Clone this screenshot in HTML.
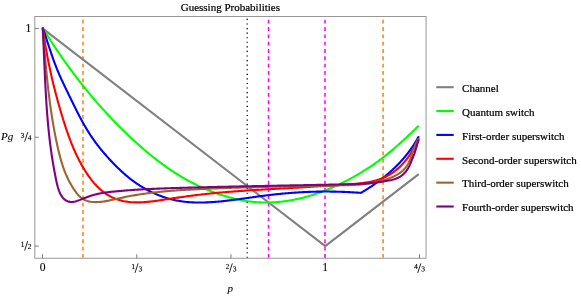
<!DOCTYPE html>
<html><head><meta charset="utf-8"><title>Guessing Probabilities</title>
<style>
html,body{margin:0;padding:0;background:#fff;}
svg{display:block;will-change:transform;}
text{font-family:"Liberation Serif",serif;font-size:11px;fill:#000;stroke:#000;stroke-width:0.22px;}
text.sm{font-size:10px;stroke-width:0.3px;}
text.num{font-size:11.6px;stroke-width:0.1px;}
text.it{font-style:italic;stroke-width:0.08px;}
</style></head>
<body>
<svg width="581" height="298" viewBox="0 0 581 298">
<rect x="0" y="0" width="581" height="298" fill="#ffffff"/>

<g fill="none">
<line x1="83.0" y1="257.85" x2="83.0" y2="17.0" stroke="#ff8000" stroke-width="1.5" stroke-dasharray="3.85 3.47"/>
<line x1="383.1" y1="257.85" x2="383.1" y2="17.0" stroke="#ff8000" stroke-width="1.5" stroke-dasharray="3.85 3.47"/>
<line x1="268.55" y1="257.85" x2="268.55" y2="17.0" stroke="#ff00ff" stroke-width="1.5" stroke-dasharray="3.85 3.47"/>
<line x1="325.0" y1="257.85" x2="325.0" y2="17.0" stroke="#ff00ff" stroke-width="1.5" stroke-dasharray="3.85 3.47"/>
<line x1="247.2" y1="257.85" x2="247.2" y2="17.0" stroke="#000000" stroke-width="1.35" stroke-dasharray="1.15 3.424"/>
</g>
<g fill="none" stroke-width="2.1" stroke-linejoin="round" stroke-linecap="butt">
<path d="M42.50,28.45 L325.25,246.05 L418.75,174.07" stroke="#808080"/>
<path d="M42.75,28.00 L43.37,29.01 L43.98,30.01 L44.60,31.02 L45.23,32.02 L45.85,33.02 L46.48,34.02 L47.10,35.02 L47.73,36.02 L48.36,37.02 L49.00,38.01 L49.63,39.01 L50.27,40.00 L50.91,40.99 L51.55,41.98 L52.19,42.97 L52.84,43.96 L53.49,44.94 L54.14,45.93 L54.79,46.91 L55.44,47.89 L56.09,48.87 L56.75,49.85 L57.41,50.83 L58.07,51.81 L58.73,52.78 L59.40,53.75 L60.06,54.73 L60.73,55.70 L61.40,56.67 L62.07,57.63 L62.75,58.60 L63.43,59.56 L64.10,60.53 L64.78,61.49 L65.47,62.45 L66.15,63.41 L66.84,64.36 L67.53,65.32 L68.22,66.27 L68.91,67.23 L69.60,68.18 L70.30,69.13 L71.00,70.07 L71.70,71.02 L72.40,71.96 L73.10,72.91 L73.81,73.85 L74.52,74.79 L75.23,75.73 L75.94,76.66 L76.66,77.60 L77.37,78.53 L78.09,79.46 L78.81,80.39 L79.53,81.32 L80.26,82.25 L80.99,83.17 L81.71,84.10 L82.45,85.02 L83.18,85.94 L83.91,86.86 L84.65,87.78 L85.39,88.69 L86.13,89.60 L86.87,90.52 L87.62,91.43 L88.37,92.33 L89.12,93.24 L89.87,94.15 L90.62,95.05 L91.38,95.95 L92.13,96.85 L92.89,97.75 L93.66,98.64 L94.42,99.54 L95.19,100.43 L95.95,101.32 L96.72,102.21 L97.50,103.10 L98.27,103.98 L99.05,104.87 L99.83,105.75 L100.61,106.63 L101.39,107.51 L102.18,108.38 L102.96,109.26 L103.75,110.13 L104.54,111.00 L105.34,111.87 L106.13,112.74 L106.93,113.60 L107.73,114.47 L108.53,115.33 L109.34,116.19 L110.14,117.05 L110.95,117.90 L111.76,118.76 L112.58,119.61 L113.39,120.46 L114.21,121.31 L115.03,122.15 L115.85,123.00 L116.67,123.84 L117.50,124.68 L118.33,125.52 L119.16,126.35 L119.99,127.19 L120.82,128.02 L121.66,128.85 L122.50,129.68 L123.34,130.51 L124.18,131.33 L125.03,132.15 L125.88,132.97 L126.73,133.79 L127.58,134.61 L128.43,135.42 L129.29,136.24 L130.15,137.05 L131.01,137.85 L131.87,138.66 L132.74,139.46 L133.61,140.27 L134.48,141.07 L135.35,141.86 L136.22,142.66 L137.10,143.45 L137.98,144.24 L138.86,145.03 L139.74,145.81 L140.63,146.59 L141.52,147.37 L142.41,148.14 L143.30,148.92 L144.20,149.69 L145.10,150.45 L146.00,151.22 L146.91,151.98 L147.81,152.73 L148.72,153.49 L149.63,154.24 L150.55,154.99 L151.46,155.73 L152.38,156.47 L153.31,157.21 L154.23,157.94 L155.16,158.67 L156.09,159.39 L157.02,160.11 L157.96,160.83 L158.90,161.54 L159.84,162.25 L160.79,162.96 L161.73,163.66 L162.68,164.36 L163.64,165.05 L164.59,165.74 L165.55,166.42 L166.51,167.10 L167.48,167.77 L168.45,168.44 L169.42,169.11 L170.39,169.77 L171.37,170.43 L172.35,171.08 L173.33,171.72 L174.32,172.36 L175.31,173.00 L176.30,173.63 L177.30,174.26 L178.30,174.88 L179.30,175.49 L180.30,176.10 L181.31,176.71 L182.32,177.30 L183.34,177.90 L184.36,178.49 L185.38,179.07 L186.40,179.64 L187.43,180.22 L188.46,180.78 L189.50,181.34 L190.54,181.89 L191.58,182.44 L192.62,182.98 L193.67,183.51 L194.73,184.04 L195.78,184.56 L196.84,185.08 L197.90,185.59 L198.97,186.09 L200.04,186.59 L201.11,187.08 L202.19,187.56 L203.27,188.04 L204.35,188.51 L205.44,188.97 L206.53,189.43 L207.62,189.88 L208.72,190.33 L209.82,190.76 L210.92,191.20 L212.03,191.62 L213.13,192.04 L214.25,192.45 L215.36,192.85 L216.47,193.25 L217.59,193.64 L218.71,194.03 L219.84,194.41 L220.96,194.78 L222.09,195.15 L223.22,195.51 L224.35,195.86 L225.49,196.20 L226.63,196.54 L227.76,196.87 L228.91,197.20 L230.05,197.52 L231.19,197.83 L232.34,198.13 L233.49,198.42 L234.64,198.70 L235.79,198.98 L236.94,199.24 L238.09,199.50 L239.25,199.75 L240.41,199.98 L241.56,200.21 L242.72,200.43 L243.88,200.63 L245.04,200.83 L246.21,201.01 L247.37,201.19 L248.54,201.35 L249.70,201.51 L250.87,201.65 L252.03,201.78 L253.20,201.90 L254.37,202.01 L255.54,202.11 L256.71,202.20 L257.87,202.28 L259.04,202.35 L260.21,202.40 L261.38,202.45 L262.55,202.48 L263.72,202.51 L264.89,202.52 L266.07,202.53 L267.24,202.52 L268.41,202.50 L269.58,202.48 L270.74,202.44 L271.91,202.40 L273.08,202.34 L274.25,202.28 L275.42,202.20 L276.59,202.12 L277.75,202.03 L278.92,201.92 L280.08,201.81 L281.25,201.69 L282.41,201.55 L283.57,201.41 L284.73,201.26 L285.90,201.10 L287.05,200.93 L288.21,200.76 L289.37,200.57 L290.53,200.37 L291.68,200.17 L292.83,199.96 L293.99,199.73 L295.14,199.50 L296.29,199.26 L297.44,199.02 L298.58,198.76 L299.73,198.50 L300.87,198.22 L302.01,197.94 L303.15,197.66 L304.29,197.36 L305.43,197.05 L306.57,196.74 L307.70,196.42 L308.83,196.09 L309.96,195.76 L311.09,195.42 L312.22,195.07 L313.35,194.71 L314.47,194.35 L315.59,193.97 L316.71,193.59 L317.83,193.21 L318.94,192.82 L320.06,192.42 L321.17,192.01 L322.28,191.60 L323.38,191.18 L324.49,190.75 L325.59,190.32 L326.69,189.88 L327.79,189.43 L328.88,188.98 L329.97,188.52 L331.06,188.06 L332.15,187.59 L333.24,187.11 L334.32,186.63 L335.40,186.15 L336.48,185.65 L337.55,185.15 L338.63,184.65 L339.69,184.14 L340.76,183.63 L341.82,183.11 L342.89,182.58 L343.94,182.05 L345.00,181.51 L346.05,180.97 L347.10,180.43 L348.15,179.88 L349.19,179.32 L350.23,178.76 L351.27,178.20 L352.30,177.63 L353.33,177.06 L354.36,176.48 L355.38,175.90 L356.40,175.31 L357.42,174.72 L358.43,174.13 L359.44,173.53 L360.45,172.93 L361.46,172.32 L362.46,171.71 L363.45,171.09 L364.45,170.47 L365.44,169.85 L366.42,169.22 L367.41,168.59 L368.39,167.95 L369.37,167.31 L370.34,166.67 L371.31,166.01 L372.28,165.36 L373.25,164.70 L374.21,164.03 L375.17,163.36 L376.12,162.68 L377.07,162.00 L378.02,161.32 L378.97,160.62 L379.91,159.93 L380.85,159.22 L381.79,158.51 L382.73,157.80 L383.66,157.08 L384.59,156.35 L385.51,155.62 L386.44,154.89 L387.36,154.15 L388.28,153.40 L389.19,152.65 L390.10,151.89 L391.01,151.13 L391.92,150.37 L392.82,149.60 L393.72,148.83 L394.62,148.06 L395.52,147.28 L396.41,146.50 L397.30,145.71 L398.19,144.92 L399.08,144.14 L399.96,143.34 L400.84,142.55 L401.72,141.75 L402.60,140.96 L403.47,140.16 L404.34,139.35 L405.21,138.55 L406.08,137.75 L406.94,136.94 L407.80,136.14 L408.66,135.33 L409.52,134.53 L410.37,133.72 L411.23,132.92 L412.08,132.11 L412.92,131.31 L413.77,130.50 L414.61,129.70 L415.45,128.90 L416.29,128.09 L417.13,127.29 L417.97,126.50 L418.80,125.70" stroke="#00ff00"/>
<path d="M42.75,28.00 L43.10,28.99 L43.44,29.99 L43.78,30.98 L44.12,31.97 L44.45,32.96 L44.79,33.95 L45.12,34.94 L45.45,35.93 L45.77,36.92 L46.10,37.91 L46.42,38.89 L46.75,39.88 L47.07,40.86 L47.39,41.85 L47.72,42.83 L48.04,43.81 L48.36,44.79 L48.68,45.77 L49.00,46.75 L49.33,47.73 L49.65,48.71 L49.98,49.68 L50.30,50.66 L50.63,51.64 L50.96,52.61 L51.29,53.59 L51.62,54.56 L51.96,55.53 L52.29,56.50 L52.63,57.47 L52.98,58.44 L53.32,59.41 L53.67,60.38 L54.02,61.35 L54.38,62.31 L54.74,63.28 L55.10,64.24 L55.47,65.21 L55.84,66.17 L56.22,67.13 L56.60,68.10 L56.99,69.06 L57.38,70.02 L57.78,70.98 L58.18,71.93 L58.58,72.89 L59.00,73.85 L59.41,74.80 L59.83,75.76 L60.26,76.71 L60.68,77.67 L61.12,78.62 L61.55,79.57 L61.99,80.52 L62.43,81.47 L62.87,82.42 L63.32,83.37 L63.77,84.32 L64.22,85.26 L64.67,86.21 L65.12,87.15 L65.57,88.10 L66.03,89.04 L66.49,89.98 L66.94,90.93 L67.40,91.87 L67.86,92.81 L68.31,93.75 L68.77,94.68 L69.22,95.62 L69.68,96.56 L70.13,97.50 L70.59,98.43 L71.04,99.36 L71.49,100.30 L71.95,101.23 L72.40,102.16 L72.86,103.09 L73.31,104.02 L73.77,104.95 L74.22,105.87 L74.68,106.80 L75.14,107.72 L75.60,108.64 L76.06,109.56 L76.52,110.48 L76.98,111.40 L77.45,112.32 L77.92,113.23 L78.39,114.14 L78.86,115.06 L79.33,115.97 L79.81,116.87 L80.29,117.78 L80.77,118.68 L81.26,119.59 L81.75,120.49 L82.24,121.39 L82.73,122.28 L83.23,123.18 L83.74,124.07 L84.24,124.96 L84.75,125.85 L85.27,126.74 L85.79,127.62 L86.31,128.50 L86.84,129.38 L87.37,130.26 L87.91,131.14 L88.45,132.01 L89.00,132.88 L89.56,133.75 L90.11,134.61 L90.68,135.48 L91.25,136.34 L91.83,137.19 L92.41,138.05 L93.00,138.90 L93.59,139.75 L94.19,140.60 L94.80,141.44 L95.42,142.28 L96.04,143.12 L96.66,143.95 L97.29,144.79 L97.93,145.61 L98.58,146.44 L99.22,147.26 L99.88,148.08 L100.53,148.90 L101.20,149.71 L101.86,150.52 L102.54,151.33 L103.21,152.13 L103.89,152.93 L104.57,153.73 L105.26,154.52 L105.95,155.31 L106.65,156.09 L107.34,156.88 L108.05,157.66 L108.75,158.43 L109.46,159.20 L110.16,159.97 L110.88,160.73 L111.59,161.49 L112.30,162.25 L113.02,163.00 L113.74,163.75 L114.47,164.49 L115.19,165.23 L115.92,165.96 L116.66,166.69 L117.39,167.42 L118.13,168.14 L118.87,168.86 L119.62,169.57 L120.37,170.28 L121.12,170.98 L121.88,171.67 L122.64,172.37 L123.41,173.05 L124.18,173.73 L124.95,174.41 L125.73,175.08 L126.52,175.74 L127.30,176.40 L128.10,177.05 L128.89,177.70 L129.70,178.34 L130.51,178.97 L131.32,179.60 L132.14,180.22 L132.96,180.84 L133.80,181.45 L134.63,182.05 L135.47,182.65 L136.32,183.24 L137.18,183.82 L138.04,184.40 L138.91,184.96 L139.78,185.53 L140.66,186.08 L141.55,186.63 L142.44,187.17 L143.34,187.70 L144.24,188.22 L145.15,188.74 L146.06,189.25 L146.98,189.75 L147.91,190.24 L148.84,190.73 L149.77,191.20 L150.71,191.67 L151.66,192.13 L152.60,192.58 L153.56,193.02 L154.51,193.45 L155.47,193.87 L156.44,194.29 L157.40,194.69 L158.37,195.09 L159.35,195.47 L160.32,195.85 L161.30,196.21 L162.29,196.57 L163.27,196.92 L164.26,197.25 L165.25,197.58 L166.24,197.89 L167.24,198.20 L168.24,198.49 L169.23,198.77 L170.23,199.04 L171.24,199.31 L172.24,199.55 L173.24,199.79 L174.25,200.02 L175.25,200.24 L176.26,200.44 L177.27,200.64 L178.28,200.82 L179.29,200.99 L180.30,201.15 L181.31,201.31 L182.32,201.45 L183.33,201.58 L184.35,201.71 L185.36,201.82 L186.38,201.93 L187.40,202.02 L188.41,202.11 L189.43,202.19 L190.45,202.26 L191.47,202.32 L192.49,202.37 L193.51,202.42 L194.54,202.46 L195.56,202.49 L196.58,202.51 L197.61,202.53 L198.63,202.54 L199.66,202.54 L200.68,202.53 L201.71,202.52 L202.74,202.51 L203.76,202.48 L204.79,202.46 L205.82,202.42 L206.85,202.38 L207.88,202.34 L208.91,202.29 L209.94,202.23 L210.97,202.17 L212.00,202.11 L213.04,202.04 L214.07,201.96 L215.10,201.89 L216.14,201.80 L217.17,201.72 L218.20,201.63 L219.24,201.53 L220.27,201.43 L221.31,201.33 L222.34,201.23 L223.38,201.12 L224.42,201.01 L225.45,200.89 L226.49,200.78 L227.52,200.66 L228.56,200.53 L229.60,200.41 L230.64,200.28 L231.67,200.15 L232.71,200.02 L233.75,199.88 L234.79,199.75 L235.82,199.61 L236.86,199.47 L237.90,199.33 L238.94,199.19 L239.98,199.05 L241.01,198.90 L242.05,198.76 L243.09,198.61 L244.13,198.46 L245.17,198.32 L246.20,198.17 L247.24,198.02 L248.28,197.87 L249.32,197.72 L250.35,197.58 L251.39,197.43 L252.43,197.28 L253.47,197.13 L254.50,196.99 L255.54,196.84 L256.58,196.70 L257.61,196.55 L258.65,196.41 L259.68,196.27 L260.72,196.13 L261.75,195.99 L262.79,195.86 L263.82,195.72 L264.86,195.59 L265.89,195.46 L266.92,195.33 L267.96,195.20 L268.99,195.08 L270.02,194.95 L271.06,194.83 L272.09,194.72 L273.12,194.60 L274.15,194.49 L275.18,194.37 L276.21,194.26 L277.24,194.16 L278.27,194.05 L279.30,193.95 L280.33,193.84 L281.36,193.74 L282.39,193.65 L283.42,193.55 L284.45,193.46 L285.48,193.37 L286.51,193.28 L287.54,193.19 L288.57,193.11 L289.60,193.03 L290.63,192.95 L291.65,192.87 L292.68,192.79 L293.71,192.72 L294.74,192.65 L295.77,192.58 L296.80,192.51 L297.82,192.45 L298.85,192.38 L299.88,192.32 L300.91,192.27 L301.94,192.21 L302.96,192.16 L303.99,192.10 L305.02,192.06 L306.05,192.01 L307.08,191.96 L308.11,191.92 L309.14,191.88 L310.16,191.84 L311.19,191.81 L312.22,191.78 L313.25,191.74 L314.28,191.72 L315.31,191.69 L316.34,191.67 L317.37,191.64 L318.40,191.62 L319.43,191.61 L320.46,191.59 L321.49,191.58 L322.52,191.57 L323.55,191.56 L324.58,191.56 L325.61,191.55 L326.64,191.55 L327.68,191.56 L328.71,191.56 L329.74,191.57 L330.77,191.58 L331.81,191.59 L332.84,191.60 L333.87,191.62 L334.91,191.64 L335.94,191.66 L336.98,191.68 L338.01,191.71 L339.05,191.73 L340.08,191.76 L341.12,191.80 L342.16,191.83 L343.19,191.87 L344.23,191.91 L345.27,191.96 L346.31,192.00 L347.35,192.05 L348.39,192.10 L349.43,192.15 L350.47,192.21 L351.51,192.27 L352.55,192.33 L353.59,192.39 L354.63,192.45 L355.68,192.52 L356.72,192.59 L357.76,192.67 L358.81,192.74 L359.85,192.82 L360.90,192.90 L360.90,192.90 L361.62,192.48 L362.33,192.06 L363.04,191.64 L363.75,191.21 L364.46,190.78 L365.17,190.35 L365.88,189.92 L366.58,189.48 L367.29,189.04 L367.99,188.59 L368.69,188.14 L369.38,187.69 L370.08,187.24 L370.77,186.78 L371.47,186.32 L372.16,185.86 L372.84,185.40 L373.53,184.93 L374.21,184.45 L374.90,183.98 L375.58,183.50 L376.25,183.02 L376.93,182.53 L377.60,182.05 L378.27,181.56 L378.94,181.06 L379.61,180.57 L380.27,180.07 L380.93,179.56 L381.59,179.06 L382.25,178.55 L382.90,178.03 L383.55,177.52 L384.20,177.00 L384.85,176.48 L385.49,175.95 L386.13,175.42 L386.77,174.89 L387.40,174.35 L388.03,173.82 L388.66,173.27 L389.29,172.73 L389.91,172.18 L390.53,171.63 L391.15,171.07 L391.76,170.52 L392.37,169.96 L392.98,169.39 L393.59,168.82 L394.19,168.25 L394.79,167.68 L395.38,167.10 L395.97,166.52 L396.56,165.94 L397.14,165.35 L397.72,164.76 L398.30,164.16 L398.88,163.57 L399.45,162.97 L400.01,162.36 L400.58,161.76 L401.14,161.15 L401.69,160.53 L402.24,159.91 L402.79,159.29 L403.34,158.67 L403.88,158.04 L404.41,157.41 L404.95,156.78 L405.47,156.14 L406.00,155.50 L406.52,154.85 L407.04,154.21 L407.55,153.56 L408.06,152.90 L408.56,152.24 L409.06,151.58 L409.55,150.92 L410.05,150.25 L410.53,149.58 L411.01,148.90 L411.49,148.22 L411.97,147.54 L412.43,146.85 L412.90,146.17 L413.36,145.47 L413.81,144.78 L414.26,144.08 L414.71,143.37 L415.15,142.67 L415.59,141.96 L416.02,141.24 L416.44,140.53 L416.87,139.81 L417.28,139.08 L417.69,138.35 L418.10,137.62 L418.50,136.89 L418.90,136.15" stroke="#0000ff"/>
<path d="M42.75,28.00 L42.92,29.28 L43.10,30.56 L43.28,31.83 L43.46,33.11 L43.65,34.39 L43.84,35.67 L44.03,36.94 L44.23,38.22 L44.43,39.50 L44.63,40.78 L44.83,42.05 L45.04,43.33 L45.25,44.61 L45.47,45.88 L45.69,47.16 L45.91,48.43 L46.13,49.71 L46.36,50.99 L46.59,52.26 L46.83,53.54 L47.06,54.81 L47.30,56.08 L47.54,57.36 L47.79,58.63 L48.04,59.90 L48.29,61.18 L48.55,62.45 L48.80,63.72 L49.07,64.99 L49.33,66.26 L49.60,67.53 L49.87,68.80 L50.14,70.07 L50.42,71.34 L50.69,72.61 L50.98,73.87 L51.26,75.14 L51.55,76.41 L51.84,77.67 L52.13,78.94 L52.43,80.20 L52.73,81.46 L53.03,82.73 L53.34,83.99 L53.64,85.25 L53.95,86.51 L54.27,87.77 L54.58,89.03 L54.90,90.29 L55.23,91.54 L55.55,92.80 L55.88,94.06 L56.21,95.31 L56.54,96.56 L56.88,97.82 L57.22,99.07 L57.56,100.32 L57.90,101.57 L58.25,102.82 L58.60,104.07 L58.95,105.32 L59.31,106.56 L59.67,107.81 L60.03,109.05 L60.39,110.29 L60.75,111.54 L61.12,112.78 L61.49,114.02 L61.87,115.26 L62.24,116.49 L62.62,117.73 L63.01,118.96 L63.39,120.20 L63.78,121.43 L64.17,122.66 L64.56,123.89 L64.96,125.12 L65.36,126.35 L65.76,127.57 L66.17,128.80 L66.58,130.02 L66.99,131.24 L67.41,132.46 L67.84,133.68 L68.27,134.89 L68.71,136.10 L69.15,137.31 L69.59,138.52 L70.05,139.73 L70.51,140.93 L70.97,142.13 L71.45,143.33 L71.92,144.52 L72.41,145.72 L72.90,146.91 L73.41,148.09 L73.91,149.28 L74.43,150.46 L74.96,151.64 L75.49,152.81 L76.03,153.99 L76.58,155.15 L77.14,156.32 L77.71,157.48 L78.29,158.64 L78.88,159.79 L79.48,160.94 L80.09,162.09 L80.71,163.24 L81.33,164.38 L81.98,165.51 L82.63,166.64 L83.29,167.77 L83.96,168.89 L84.65,170.01 L85.35,171.13 L86.06,172.24 L86.78,173.34 L87.52,174.44 L88.27,175.53 L89.03,176.61 L89.80,177.67 L90.59,178.73 L91.40,179.78 L92.21,180.81 L93.05,181.83 L93.89,182.84 L94.75,183.82 L95.63,184.79 L96.52,185.75 L97.43,186.68 L98.36,187.59 L99.30,188.49 L100.25,189.36 L101.23,190.20 L102.22,191.03 L103.23,191.82 L104.26,192.60 L105.30,193.34 L106.36,194.06 L107.44,194.74 L108.54,195.40 L109.66,196.03 L110.79,196.62 L111.94,197.19 L113.11,197.73 L114.29,198.23 L115.48,198.71 L116.68,199.15 L117.90,199.57 L119.12,199.95 L120.36,200.31 L121.60,200.64 L122.85,200.93 L124.11,201.20 L125.37,201.43 L126.64,201.64 L127.90,201.82 L129.18,201.97 L130.45,202.10 L131.72,202.20 L133.00,202.29 L134.27,202.34 L135.55,202.38 L136.82,202.40 L138.10,202.40 L139.38,202.38 L140.66,202.34 L141.94,202.28 L143.22,202.21 L144.50,202.13 L145.78,202.03 L147.06,201.92 L148.34,201.79 L149.63,201.66 L150.91,201.52 L152.19,201.36 L153.48,201.20 L154.76,201.03 L156.05,200.85 L157.33,200.67 L158.62,200.49 L159.91,200.30 L161.20,200.10 L162.48,199.91 L163.77,199.71 L165.06,199.52 L166.35,199.32 L167.64,199.13 L168.93,198.93 L170.22,198.74 L171.51,198.55 L172.80,198.36 L174.09,198.16 L175.38,197.97 L176.67,197.79 L177.96,197.60 L179.25,197.41 L180.54,197.23 L181.84,197.04 L183.13,196.86 L184.42,196.68 L185.71,196.50 L187.00,196.32 L188.30,196.15 L189.59,195.98 L190.88,195.80 L192.17,195.64 L193.46,195.47 L194.76,195.30 L196.05,195.14 L197.34,194.98 L198.63,194.83 L199.92,194.67 L201.22,194.52 L202.51,194.37 L203.80,194.23 L205.09,194.08 L206.38,193.94 L207.67,193.80 L208.97,193.67 L210.26,193.53 L211.55,193.40 L212.84,193.27 L214.13,193.14 L215.42,193.02 L216.71,192.90 L218.00,192.78 L219.29,192.66 L220.58,192.54 L221.87,192.43 L223.16,192.31 L224.46,192.20 L225.75,192.09 L227.04,191.99 L228.33,191.88 L229.62,191.78 L230.91,191.68 L232.20,191.58 L233.49,191.48 L234.78,191.38 L236.07,191.28 L237.36,191.19 L238.65,191.10 L239.94,191.01 L241.23,190.92 L242.52,190.83 L243.81,190.74 L245.10,190.65 L246.39,190.57 L247.68,190.48 L248.97,190.40 L250.26,190.32 L251.55,190.24 L252.84,190.16 L254.13,190.08 L255.42,190.00 L256.71,189.92 L258.00,189.84 L259.29,189.77 L260.58,189.69 L261.87,189.62 L263.16,189.54 L264.45,189.47 L265.74,189.39 L267.03,189.32 L268.32,189.25 L269.61,189.18 L270.90,189.10 L272.19,189.03 L273.48,188.96 L274.77,188.89 L276.06,188.82 L277.35,188.75 L278.64,188.68 L279.93,188.61 L281.22,188.53 L282.51,188.46 L283.80,188.39 L285.10,188.32 L286.39,188.25 L287.68,188.18 L288.97,188.10 L290.26,188.03 L291.55,187.96 L292.84,187.89 L294.13,187.81 L295.42,187.74 L296.72,187.66 L298.01,187.59 L299.30,187.51 L300.59,187.43 L301.88,187.35 L303.17,187.28 L304.47,187.20 L305.76,187.12 L307.05,187.04 L308.34,186.96 L309.63,186.88 L310.93,186.80 L312.22,186.72 L313.51,186.64 L314.80,186.55 L316.10,186.47 L317.39,186.39 L318.68,186.31 L319.98,186.23 L321.27,186.15 L322.56,186.07 L323.86,185.99 L325.15,185.91 L326.44,185.83 L327.74,185.75 L329.03,185.67 L330.33,185.59 L331.62,185.51 L332.92,185.44 L334.21,185.36 L335.50,185.28 L336.80,185.20 L338.09,185.12 L339.39,185.04 L340.69,184.96 L341.98,184.88 L343.28,184.79 L344.57,184.70 L345.87,184.61 L347.16,184.52 L348.46,184.42 L349.76,184.32 L351.05,184.21 L352.35,184.10 L353.65,183.99 L354.95,183.87 L356.24,183.74 L357.54,183.61 L358.84,183.47 L360.13,183.33 L361.43,183.17 L362.72,183.01 L364.01,182.83 L365.29,182.64 L366.57,182.44 L367.85,182.22 L369.12,181.99 L370.39,181.74 L371.65,181.47 L372.90,181.18 L374.15,180.87 L375.39,180.55 L376.63,180.20 L377.85,179.82 L379.07,179.43 L380.27,179.00 L381.47,178.55 L382.66,178.08 L383.83,177.57 L385.00,177.04 L386.15,176.48 L387.29,175.89 L388.41,175.27 L389.53,174.63 L390.63,173.96 L391.71,173.27 L392.78,172.55 L393.84,171.80 L394.88,171.04 L395.90,170.25 L396.91,169.43 L397.90,168.60 L398.87,167.74 L399.82,166.86 L400.75,165.96 L401.67,165.04 L402.56,164.10 L403.43,163.14 L404.29,162.16 L405.12,161.17 L405.94,160.16 L406.74,159.14 L407.52,158.10 L408.28,157.05 L409.02,155.98 L409.75,154.91 L410.46,153.83 L411.15,152.74 L411.83,151.64 L412.49,150.53 L413.14,149.42 L413.77,148.30 L414.38,147.17 L414.98,146.04 L415.57,144.90 L416.14,143.76 L416.70,142.61 L417.24,141.46 L417.77,140.31 L418.29,139.16 L418.80,138.00" stroke="#ff0000"/>
<path d="M42.75,28.00 L42.85,29.34 L42.96,30.69 L43.06,32.03 L43.17,33.38 L43.27,34.72 L43.38,36.07 L43.48,37.41 L43.59,38.76 L43.69,40.10 L43.80,41.45 L43.91,42.80 L44.01,44.14 L44.12,45.49 L44.23,46.84 L44.34,48.18 L44.45,49.53 L44.56,50.88 L44.67,52.23 L44.78,53.57 L44.90,54.92 L45.01,56.27 L45.13,57.62 L45.24,58.96 L45.36,60.31 L45.48,61.66 L45.60,63.01 L45.72,64.35 L45.84,65.70 L45.97,67.05 L46.09,68.40 L46.22,69.74 L46.35,71.09 L46.48,72.44 L46.61,73.79 L46.74,75.13 L46.88,76.48 L47.02,77.83 L47.15,79.17 L47.29,80.52 L47.44,81.86 L47.58,83.21 L47.73,84.56 L47.88,85.90 L48.03,87.25 L48.18,88.59 L48.33,89.93 L48.49,91.28 L48.65,92.62 L48.81,93.97 L48.97,95.31 L49.14,96.65 L49.31,97.99 L49.48,99.33 L49.65,100.68 L49.83,102.02 L50.01,103.36 L50.19,104.70 L50.37,106.04 L50.56,107.38 L50.75,108.71 L50.94,110.05 L51.14,111.39 L51.34,112.73 L51.54,114.06 L51.75,115.40 L51.95,116.73 L52.17,118.07 L52.38,119.40 L52.60,120.73 L52.82,122.07 L53.04,123.40 L53.27,124.73 L53.50,126.06 L53.74,127.39 L53.98,128.72 L54.22,130.05 L54.46,131.38 L54.71,132.70 L54.97,134.03 L55.22,135.35 L55.48,136.68 L55.75,138.00 L56.02,139.32 L56.29,140.65 L56.57,141.97 L56.85,143.29 L57.13,144.61 L57.42,145.92 L57.72,147.24 L58.02,148.56 L58.32,149.87 L58.63,151.18 L58.95,152.50 L59.27,153.80 L59.61,155.11 L59.95,156.41 L60.30,157.72 L60.66,159.01 L61.03,160.31 L61.41,161.60 L61.80,162.89 L62.20,164.18 L62.62,165.46 L63.05,166.73 L63.49,168.01 L63.95,169.28 L64.42,170.54 L64.90,171.80 L65.41,173.05 L65.92,174.30 L66.46,175.54 L67.01,176.78 L67.58,178.01 L68.17,179.24 L68.77,180.46 L69.40,181.67 L70.04,182.88 L70.71,184.08 L71.40,185.27 L72.11,186.45 L72.84,187.63 L73.60,188.80 L74.37,189.96 L75.18,191.11 L76.01,192.24 L76.86,193.34 L77.75,194.40 L78.67,195.41 L79.63,196.38 L80.62,197.28 L81.65,198.11 L82.72,198.86 L83.83,199.52 L84.98,200.10 L86.17,200.60 L87.39,201.01 L88.64,201.35 L89.92,201.62 L91.22,201.83 L92.54,201.97 L93.87,202.06 L95.22,202.10 L96.57,202.10 L97.92,202.05 L99.27,201.97 L100.62,201.85 L101.97,201.71 L103.32,201.53 L104.66,201.34 L106.00,201.12 L107.35,200.87 L108.69,200.62 L110.02,200.34 L111.36,200.06 L112.70,199.77 L114.03,199.47 L115.37,199.16 L116.70,198.86 L118.04,198.55 L119.37,198.25 L120.70,197.96 L122.04,197.67 L123.37,197.39 L124.70,197.11 L126.04,196.84 L127.37,196.58 L128.70,196.32 L130.04,196.07 L131.37,195.83 L132.70,195.59 L134.04,195.36 L135.37,195.13 L136.70,194.91 L138.04,194.70 L139.37,194.49 L140.70,194.28 L142.04,194.08 L143.37,193.89 L144.70,193.70 L146.04,193.51 L147.37,193.33 L148.71,193.16 L150.04,192.99 L151.38,192.82 L152.71,192.66 L154.05,192.51 L155.38,192.35 L156.72,192.21 L158.05,192.06 L159.39,191.92 L160.72,191.79 L162.06,191.65 L163.40,191.52 L164.73,191.40 L166.07,191.28 L167.41,191.16 L168.75,191.04 L170.08,190.93 L171.42,190.82 L172.76,190.72 L174.10,190.62 L175.44,190.52 L176.78,190.42 L178.12,190.32 L179.46,190.23 L180.80,190.14 L182.14,190.06 L183.48,189.97 L184.83,189.89 L186.17,189.81 L187.51,189.73 L188.86,189.65 L190.20,189.58 L191.54,189.50 L192.89,189.43 L194.23,189.36 L195.58,189.29 L196.93,189.23 L198.28,189.16 L199.62,189.09 L200.97,189.03 L202.32,188.97 L203.67,188.91 L205.02,188.84 L206.37,188.78 L207.72,188.73 L209.07,188.67 L210.43,188.61 L211.78,188.55 L213.13,188.50 L214.48,188.44 L215.84,188.39 L217.19,188.34 L218.55,188.29 L219.90,188.24 L221.26,188.19 L222.61,188.14 L223.97,188.09 L225.32,188.04 L226.68,188.00 L228.04,187.95 L229.40,187.90 L230.75,187.86 L232.11,187.82 L233.47,187.77 L234.83,187.73 L236.19,187.69 L237.54,187.65 L238.90,187.61 L240.26,187.57 L241.62,187.53 L242.98,187.49 L244.34,187.45 L245.70,187.42 L247.06,187.38 L248.42,187.34 L249.78,187.31 L251.14,187.27 L252.50,187.24 L253.86,187.20 L255.22,187.17 L256.58,187.14 L257.94,187.10 L259.30,187.07 L260.66,187.04 L262.02,187.01 L263.38,186.97 L264.74,186.94 L266.11,186.91 L267.47,186.88 L268.83,186.85 L270.19,186.82 L271.55,186.79 L272.91,186.76 L274.27,186.74 L275.62,186.71 L276.98,186.68 L278.34,186.65 L279.70,186.62 L281.06,186.59 L282.42,186.57 L283.78,186.54 L285.14,186.51 L286.49,186.49 L287.85,186.46 L289.21,186.43 L290.57,186.40 L291.92,186.38 L293.28,186.35 L294.64,186.32 L295.99,186.30 L297.35,186.27 L298.70,186.24 L300.06,186.22 L301.41,186.19 L302.77,186.16 L304.12,186.13 L305.47,186.11 L306.83,186.08 L308.18,186.05 L309.53,186.02 L310.88,186.00 L312.23,185.97 L313.58,185.94 L314.93,185.91 L316.28,185.88 L317.63,185.86 L318.98,185.83 L320.33,185.80 L321.67,185.77 L323.02,185.74 L324.37,185.71 L325.71,185.68 L327.06,185.65 L328.40,185.61 L329.74,185.58 L331.09,185.55 L332.43,185.52 L333.77,185.49 L335.11,185.45 L336.45,185.42 L337.79,185.39 L339.13,185.35 L340.47,185.32 L341.80,185.28 L343.14,185.24 L344.48,185.21 L345.81,185.17 L347.14,185.13 L348.48,185.09 L349.81,185.05 L351.14,185.01 L352.47,184.96 L353.80,184.91 L355.13,184.85 L356.46,184.79 L357.78,184.71 L359.11,184.62 L360.43,184.53 L361.76,184.41 L363.08,184.29 L364.40,184.15 L365.72,183.99 L367.04,183.82 L368.36,183.63 L369.68,183.41 L371.00,183.18 L372.31,182.92 L373.63,182.64 L374.94,182.34 L376.25,182.02 L377.57,181.68 L378.88,181.33 L380.18,180.98 L381.49,180.62 L382.80,180.26 L384.11,179.90 L385.41,179.54 L386.71,179.16 L388.01,178.75 L389.32,178.31 L390.61,177.83 L391.90,177.31 L393.17,176.75 L394.43,176.15 L395.67,175.52 L396.88,174.84 L398.07,174.13 L399.23,173.37 L400.34,172.58 L401.43,171.74 L402.46,170.86 L403.45,169.95 L404.39,168.99 L405.28,167.98 L406.10,166.94 L406.87,165.86 L407.58,164.73 L408.24,163.57 L408.85,162.39 L409.42,161.17 L409.96,159.93 L410.47,158.67 L410.96,157.39 L411.42,156.10 L411.88,154.80 L412.32,153.50 L412.76,152.19 L413.20,150.88 L413.65,149.58 L414.12,148.29 L414.60,147.01 L415.10,145.75 L415.63,144.50 L416.20,143.28 L416.80,142.09 L417.45,140.92 L418.15,139.79 L418.90,138.70" stroke="#996633"/>
<path d="M42.68,27.20 L42.75,28.59 L42.83,29.97 L42.90,31.36 L42.97,32.75 L43.04,34.14 L43.11,35.53 L43.17,36.92 L43.24,38.31 L43.31,39.70 L43.37,41.09 L43.44,42.48 L43.50,43.88 L43.56,45.27 L43.63,46.66 L43.69,48.05 L43.75,49.45 L43.81,50.84 L43.87,52.23 L43.93,53.63 L43.99,55.02 L44.05,56.42 L44.11,57.81 L44.17,59.21 L44.23,60.60 L44.29,62.00 L44.35,63.39 L44.42,64.79 L44.48,66.18 L44.54,67.58 L44.60,68.97 L44.66,70.37 L44.73,71.77 L44.79,73.16 L44.85,74.56 L44.92,75.95 L44.98,77.35 L45.05,78.74 L45.12,80.14 L45.19,81.54 L45.26,82.93 L45.33,84.33 L45.40,85.72 L45.47,87.12 L45.54,88.51 L45.62,89.91 L45.70,91.30 L45.77,92.70 L45.85,94.09 L45.93,95.49 L46.02,96.88 L46.10,98.27 L46.19,99.67 L46.27,101.06 L46.36,102.45 L46.46,103.85 L46.55,105.24 L46.64,106.63 L46.74,108.02 L46.84,109.41 L46.94,110.80 L47.05,112.19 L47.15,113.58 L47.26,114.97 L47.37,116.36 L47.49,117.75 L47.60,119.14 L47.72,120.53 L47.84,121.92 L47.97,123.30 L48.09,124.69 L48.22,126.07 L48.36,127.46 L48.49,128.84 L48.63,130.23 L48.77,131.61 L48.92,132.99 L49.07,134.38 L49.22,135.76 L49.37,137.14 L49.53,138.52 L49.69,139.90 L49.86,141.28 L50.02,142.65 L50.20,144.03 L50.37,145.41 L50.55,146.78 L50.74,148.16 L50.92,149.53 L51.11,150.91 L51.31,152.28 L51.51,153.65 L51.71,155.03 L51.92,156.40 L52.13,157.77 L52.34,159.15 L52.56,160.52 L52.79,161.89 L53.02,163.27 L53.25,164.64 L53.49,166.02 L53.73,167.39 L53.97,168.77 L54.22,170.15 L54.48,171.52 L54.74,172.90 L55.01,174.29 L55.28,175.67 L55.55,177.05 L55.83,178.44 L56.12,179.82 L56.41,181.21 L56.71,182.60 L57.02,183.98 L57.36,185.37 L57.73,186.75 L58.13,188.12 L58.56,189.48 L59.05,190.83 L59.58,192.17 L60.17,193.48 L60.82,194.74 L61.54,195.95 L62.33,197.09 L63.20,198.14 L64.15,199.10 L65.19,199.94 L66.32,200.65 L67.55,201.22 L68.85,201.63 L70.16,201.88 L71.48,201.96 L72.80,201.90 L74.13,201.72 L75.45,201.43 L76.78,201.06 L78.10,200.62 L79.43,200.13 L80.77,199.61 L82.10,199.08 L83.44,198.55 L84.78,198.02 L86.11,197.50 L87.46,196.99 L88.80,196.50 L90.14,196.03 L91.49,195.59 L92.84,195.18 L94.19,194.79 L95.54,194.44 L96.89,194.11 L98.25,193.81 L99.60,193.53 L100.96,193.27 L102.32,193.03 L103.68,192.81 L105.04,192.60 L106.41,192.41 L107.77,192.23 L109.14,192.07 L110.50,191.91 L111.87,191.76 L113.24,191.62 L114.62,191.48 L115.99,191.34 L117.36,191.21 L118.74,191.08 L120.11,190.96 L121.49,190.84 L122.87,190.72 L124.25,190.61 L125.63,190.49 L127.01,190.39 L128.39,190.28 L129.77,190.18 L131.16,190.08 L132.54,189.98 L133.93,189.89 L135.32,189.80 L136.70,189.71 L138.09,189.62 L139.48,189.54 L140.87,189.46 L142.26,189.38 L143.65,189.30 L145.05,189.23 L146.44,189.16 L147.83,189.09 L149.22,189.02 L150.62,188.95 L152.01,188.89 L153.41,188.83 L154.81,188.77 L156.20,188.71 L157.60,188.65 L159.00,188.59 L160.39,188.54 L161.79,188.49 L163.19,188.44 L164.59,188.39 L165.99,188.34 L167.39,188.29 L168.79,188.24 L170.18,188.19 L171.58,188.15 L172.98,188.11 L174.38,188.06 L175.78,188.02 L177.18,187.98 L178.58,187.94 L179.98,187.89 L181.38,187.85 L182.78,187.81 L184.18,187.77 L185.58,187.73 L186.98,187.69 L188.38,187.66 L189.78,187.62 L191.18,187.58 L192.58,187.54 L193.98,187.50 L195.38,187.47 L196.78,187.43 L198.18,187.39 L199.58,187.36 L200.98,187.32 L202.38,187.28 L203.78,187.25 L205.18,187.21 L206.57,187.18 L207.97,187.14 L209.37,187.11 L210.77,187.07 L212.17,187.04 L213.57,187.01 L214.97,186.97 L216.36,186.94 L217.76,186.91 L219.16,186.87 L220.56,186.84 L221.96,186.81 L223.36,186.78 L224.75,186.75 L226.15,186.71 L227.55,186.68 L228.95,186.65 L230.34,186.62 L231.74,186.59 L233.14,186.56 L234.54,186.53 L235.93,186.50 L237.33,186.47 L238.73,186.44 L240.13,186.41 L241.52,186.38 L242.92,186.35 L244.32,186.32 L245.71,186.29 L247.11,186.26 L248.50,186.23 L249.90,186.21 L251.30,186.18 L252.69,186.15 L254.09,186.12 L255.49,186.09 L256.88,186.06 L258.28,186.04 L259.67,186.01 L261.07,185.98 L262.46,185.95 L263.86,185.93 L265.25,185.90 L266.65,185.87 L268.04,185.84 L269.44,185.82 L270.83,185.79 L272.23,185.76 L273.62,185.74 L275.02,185.71 L276.41,185.68 L277.81,185.66 L279.20,185.63 L280.59,185.60 L281.99,185.57 L283.38,185.55 L284.77,185.52 L286.17,185.49 L287.56,185.47 L288.95,185.44 L290.35,185.42 L291.74,185.39 L293.13,185.36 L294.53,185.34 L295.92,185.31 L297.31,185.28 L298.70,185.26 L300.09,185.23 L301.49,185.20 L302.88,185.18 L304.27,185.15 L305.66,185.12 L307.05,185.09 L308.44,185.07 L309.84,185.04 L311.23,185.01 L312.62,184.99 L314.01,184.96 L315.40,184.93 L316.79,184.90 L318.18,184.88 L319.57,184.85 L320.96,184.82 L322.35,184.79 L323.74,184.77 L325.13,184.74 L326.52,184.71 L327.91,184.68 L329.30,184.65 L330.68,184.63 L332.07,184.60 L333.46,184.57 L334.85,184.54 L336.24,184.51 L337.63,184.48 L339.01,184.45 L340.40,184.42 L341.79,184.39 L343.18,184.36 L344.57,184.33 L345.95,184.30 L347.34,184.27 L348.73,184.23 L350.11,184.20 L351.50,184.16 L352.89,184.11 L354.27,184.07 L355.66,184.01 L357.04,183.96 L358.43,183.90 L359.81,183.83 L361.20,183.76 L362.58,183.69 L363.97,183.60 L365.35,183.51 L366.74,183.41 L368.12,183.31 L369.51,183.20 L370.89,183.07 L372.27,182.94 L373.66,182.80 L375.04,182.65 L376.42,182.49 L377.81,182.32 L379.19,182.14 L380.57,181.95 L381.96,181.74 L383.34,181.53 L384.72,181.30 L386.10,181.05 L387.48,180.80 L388.87,180.53 L390.24,180.24 L391.62,179.93 L392.98,179.58 L394.32,179.19 L395.65,178.75 L396.95,178.24 L398.21,177.67 L399.45,177.03 L400.65,176.30 L401.80,175.48 L402.90,174.58 L403.95,173.61 L404.95,172.58 L405.88,171.49 L406.75,170.37 L407.54,169.21 L408.26,168.03 L408.91,166.82 L409.50,165.60 L410.05,164.37 L410.57,163.12 L411.08,161.86 L411.60,160.58 L412.13,159.30 L412.67,158.00 L413.21,156.70 L413.73,155.39 L414.23,154.07 L414.69,152.75 L415.13,151.42 L415.55,150.09 L415.95,148.76 L416.34,147.43 L416.73,146.10 L417.11,144.77 L417.50,143.45 L417.90,142.12 L418.32,140.81 L418.75,139.50" stroke="#800080"/>
</g>
<rect x="34.8" y="16.5" width="391.25" height="241.75" fill="none" stroke="#989898" stroke-width="1"/>
<g stroke="#707070" stroke-width="0.9">
<line x1="42.50" y1="258.25" x2="42.50" y2="254.25"/>
<line x1="136.75" y1="258.25" x2="136.75" y2="254.25"/>
<line x1="231.00" y1="258.25" x2="231.00" y2="254.25"/>
<line x1="325.25" y1="258.25" x2="325.25" y2="254.25"/>
<line x1="419.50" y1="258.25" x2="419.50" y2="254.25"/>
<line x1="34.8" y1="28.45" x2="38.8" y2="28.45"/>
<line x1="34.8" y1="137.25" x2="38.8" y2="137.25"/>
<line x1="34.8" y1="246.05" x2="38.8" y2="246.05"/>
</g>
<text x="230.4" y="11.2" text-anchor="middle">Guessing Probabilities</text>
<text class="num" x="42.55" y="271.25" text-anchor="middle">0</text>
<text class="num" x="325.05" y="271.25" text-anchor="middle">1</text>
<text class="num" x="28.5" y="31.9" text-anchor="middle">1</text>
<path d="M627 80 901 53V0H180V53L455 80V1174L184 1077V1130L575 1352H627Z" transform="translate(131.35,269.00) scale(0.003662,-0.003662)" fill="#000" stroke="#000" stroke-width="40"/><line x1="138.10" y1="263.40" x2="135.00" y2="272.90" stroke="#000" stroke-width="0.85"/><path d="M944 365Q944 184 820 82Q696 -20 469 -20Q279 -20 109 23L98 305H164L209 117Q248 95 320 79Q391 63 453 63Q610 63 685 135Q760 207 760 375Q760 507 691 576Q622 644 477 651L334 659V741L477 750Q590 756 644 820Q698 884 698 1014Q698 1149 640 1210Q581 1272 453 1272Q400 1272 342 1258Q284 1243 240 1219L205 1055H139V1313Q238 1339 310 1348Q382 1356 453 1356Q883 1356 883 1026Q883 887 806 804Q730 722 590 702Q772 681 858 598Q944 514 944 365Z" transform="translate(138.55,271.35) scale(0.003662,-0.003662)" fill="#000" stroke="#000" stroke-width="40"/>
<path d="M911 0H90V147L276 316Q455 473 539 570Q623 667 660 770Q696 873 696 1006Q696 1136 637 1204Q578 1272 444 1272Q391 1272 335 1258Q279 1243 236 1219L201 1055H135V1313Q317 1356 444 1356Q664 1356 774 1264Q885 1173 885 1006Q885 894 842 794Q798 695 708 596Q618 498 410 321Q321 245 221 154H911Z" transform="translate(225.60,269.00) scale(0.003662,-0.003662)" fill="#000" stroke="#000" stroke-width="40"/><line x1="232.35" y1="263.40" x2="229.25" y2="272.90" stroke="#000" stroke-width="0.85"/><path d="M944 365Q944 184 820 82Q696 -20 469 -20Q279 -20 109 23L98 305H164L209 117Q248 95 320 79Q391 63 453 63Q610 63 685 135Q760 207 760 375Q760 507 691 576Q622 644 477 651L334 659V741L477 750Q590 756 644 820Q698 884 698 1014Q698 1149 640 1210Q581 1272 453 1272Q400 1272 342 1258Q284 1243 240 1219L205 1055H139V1313Q238 1339 310 1348Q382 1356 453 1356Q883 1356 883 1026Q883 887 806 804Q730 722 590 702Q772 681 858 598Q944 514 944 365Z" transform="translate(232.80,271.35) scale(0.003662,-0.003662)" fill="#000" stroke="#000" stroke-width="40"/>
<path d="M810 295V0H638V295H40V428L695 1348H810V438H992V295ZM638 1113H633L153 438H638Z" transform="translate(414.10,269.00) scale(0.003662,-0.003662)" fill="#000" stroke="#000" stroke-width="40"/><line x1="420.85" y1="263.40" x2="417.75" y2="272.90" stroke="#000" stroke-width="0.85"/><path d="M944 365Q944 184 820 82Q696 -20 469 -20Q279 -20 109 23L98 305H164L209 117Q248 95 320 79Q391 63 453 63Q610 63 685 135Q760 207 760 375Q760 507 691 576Q622 644 477 651L334 659V741L477 750Q590 756 644 820Q698 884 698 1014Q698 1149 640 1210Q581 1272 453 1272Q400 1272 342 1258Q284 1243 240 1219L205 1055H139V1313Q238 1339 310 1348Q382 1356 453 1356Q883 1356 883 1026Q883 887 806 804Q730 722 590 702Q772 681 858 598Q944 514 944 365Z" transform="translate(421.30,271.35) scale(0.003662,-0.003662)" fill="#000" stroke="#000" stroke-width="40"/>
<path d="M944 365Q944 184 820 82Q696 -20 469 -20Q279 -20 109 23L98 305H164L209 117Q248 95 320 79Q391 63 453 63Q610 63 685 135Q760 207 760 375Q760 507 691 576Q622 644 477 651L334 659V741L477 750Q590 756 644 820Q698 884 698 1014Q698 1149 640 1210Q581 1272 453 1272Q400 1272 342 1258Q284 1243 240 1219L205 1055H139V1313Q238 1339 310 1348Q382 1356 453 1356Q883 1356 883 1026Q883 887 806 804Q730 722 590 702Q772 681 858 598Q944 514 944 365Z" transform="translate(20.65,137.85) scale(0.003662,-0.003662)" fill="#000" stroke="#000" stroke-width="40"/><line x1="27.75" y1="132.25" x2="24.65" y2="141.75" stroke="#000" stroke-width="0.85"/><path d="M810 295V0H638V295H40V428L695 1348H810V438H992V295ZM638 1113H633L153 438H638Z" transform="translate(27.70,140.20) scale(0.003662,-0.003662)" fill="#000" stroke="#000" stroke-width="40"/>
<path d="M627 80 901 53V0H180V53L455 80V1174L184 1077V1130L575 1352H627Z" transform="translate(20.70,246.65) scale(0.003662,-0.003662)" fill="#000" stroke="#000" stroke-width="40"/><line x1="27.75" y1="241.05" x2="24.65" y2="250.55" stroke="#000" stroke-width="0.85"/><path d="M911 0H90V147L276 316Q455 473 539 570Q623 667 660 770Q696 873 696 1006Q696 1136 637 1204Q578 1272 444 1272Q391 1272 335 1258Q279 1243 236 1219L201 1055H135V1313Q317 1356 444 1356Q664 1356 774 1264Q885 1173 885 1006Q885 894 842 794Q798 695 708 596Q618 498 410 321Q321 245 221 154H911Z" transform="translate(27.70,249.00) scale(0.003662,-0.003662)" fill="#000" stroke="#000" stroke-width="40"/>
<text class="it" x="1.1" y="139.6">Pg</text>
<text class="it" x="230.3" y="291.5" text-anchor="middle">p</text>
<line x1="436.3" y1="87.2" x2="453.7" y2="87.2" stroke="#808080" stroke-width="2.1"/>
<text x="462.1" y="92.0">Channel</text>
<line x1="436.3" y1="111.06" x2="453.7" y2="111.06" stroke="#00ff00" stroke-width="2.1"/>
<text x="462.1" y="115.9">Quantum switch</text>
<line x1="436.3" y1="134.92" x2="453.7" y2="134.92" stroke="#0000ff" stroke-width="2.1"/>
<text x="462.1" y="139.7">First-order superswitch</text>
<line x1="436.3" y1="158.78" x2="453.7" y2="158.78" stroke="#ff0000" stroke-width="2.1"/>
<text x="462.1" y="163.6">Second-order superswitch</text>
<line x1="436.3" y1="182.64" x2="453.7" y2="182.64" stroke="#996633" stroke-width="2.1"/>
<text x="462.1" y="187.4">Third-order superswitch</text>
<line x1="436.3" y1="206.5" x2="453.7" y2="206.5" stroke="#800080" stroke-width="2.1"/>
<text x="462.1" y="211.3">Fourth-order superswitch</text>
</svg>
</body></html>
